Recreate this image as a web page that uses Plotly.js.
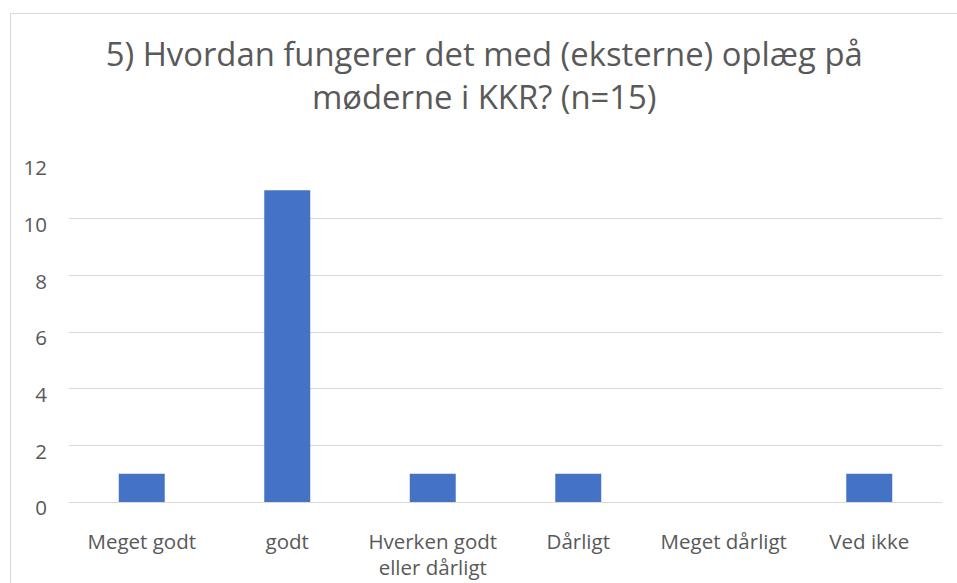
<!DOCTYPE html>
<html>
<head>
<meta charset="utf-8">
<script src="https://cdn.plot.ly/plotly-3.0.1.min.js"></script>
<style>
html,body{margin:0;padding:0;background:#fff;}
#wrap{position:relative;width:957px;height:583px;overflow:hidden;}
#chart{width:957px;height:583px;}
#frame{position:absolute;left:10px;top:13px;width:960px;height:600px;border:1px solid #d9d9d9;pointer-events:none;}
</style>
</head>
<body>
<div id="wrap"><div id="chart"></div><div id="frame"></div></div>
<script>
const categories = ["Meget godt", "godt", "Hverken godt<br>eller dårligt", "Dårligt", "Meget dårligt", "Ved ikke"];
const counts = [1, 11, 1, 1, 0, 1];
const yTicks = [0, 2, 4, 6, 8, 10, 12];
const titleText = "5) Hvordan fungerer det med (eksterne) oplæg på<br>møderne i KKR? (n=15)";

const trace = {
  type: "bar",
  x: categories,
  y: counts,
  marker: {color: "#4472c4"},
  hoverinfo: "x+y"
};

const layout = {
  width: 957,
  height: 583,
  margin: {l: 69, r: 15, t: 162, b: 81},
  paper_bgcolor: "rgba(0,0,0,0)",
  plot_bgcolor: "#fff",
  bargap: 0.684,
  showlegend: false,
  font: {family: "Open Sans, Liberation Sans, sans-serif", color: "#595959", size: 20},
  title: {
    text: titleText,
    font: {size: 32.8, color: "#595959", family: "Open Sans, Liberation Sans, sans-serif"},
    x: 0.506, xanchor: "center",
    y: 1 - 66/583, yanchor: "middle", yref: "container"
  },
  xaxis: {
    type: "category",
    showgrid: false,
    showline: true,
    linecolor: "#d9d9d9",
    linewidth: 1,
    ticks: "",
    tickfont: {size: 20.5, color: "#595959"},
    ticklabelstandoff: 21
  },
  yaxis: {
    range: [0, 12],
    tickvals: yTicks,
    showgrid: true,
    gridcolor: "#d9d9d9",
    gridwidth: 1,
    zeroline: false,
    showline: false,
    ticks: "",
    ticklen: 0,
    tickfont: {size: 20.5, color: "#595959"},
    ticklabelstandoff: 21,
    ticklabelshift: 6
  }
};

Plotly.newPlot("chart", [trace], layout, {displayModeBar: false, staticPlot: true});
</script>
</body>
</html>
